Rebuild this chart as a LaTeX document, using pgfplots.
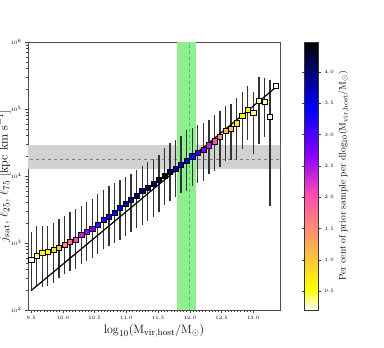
\documentclass[border=0pt]{standalone}
\usepackage{pgfplots}
\pgfplotsset{compat=1.18}
\usepackage{pgfplotstable}

\definecolor{bandgreen}{RGB}{144,238,144}
\definecolor{linegreen}{RGB}{50,205,50}

% x, median, lower, upper, per cent of prior sample
\pgfplotstableread{
x y lo hi c
9.5 562 195 1445 0.2
9.5875 646 229 1820 0.32
9.675 724 224 1778 0.55
9.7625 741 229 1820 0.6
9.85 794 251 1995 0.85
9.9375 851 302 2291 1.1
10.025 944 339 2570 1.5
10.1125 1047 376 2951 1.8
10.2 1122 407 3236 2.05
10.2875 1318 484 3508 2.4
10.375 1462 543 4074 2.6
10.4625 1641 596 4571 2.8
10.55 1884 684 5433 3.0
10.6375 2213 813 6237 3.2
10.725 2455 912 6998 3.3
10.8125 2851 1000 7852 3.4
10.9 3350 1109 8810 3.5
10.9875 3846 1288 9660 3.85
11.075 4365 1445 10840 3.9
11.1625 5012 1679 12160 4.0
11.25 5943 1884 13960 4.1
11.3375 6683 2113 16220 4.15
11.425 7674 2427 18200 4.1
11.5125 8810 2951 20420 4.3
11.6 10120 3715 26300 4.45
11.6875 11480 4266 30900 4.1
11.775 12740 4786 34670 3.8
11.8625 14790 5495 39810 3.6
11.95 17060 6026 47860 3.5
12.0375 19720 7079 52480 3.4
12.125 21980 7943 57540 3.2
12.2125 24830 8511 60950 2.7
12.3 28840 10720 69180 2.4
12.3875 33110 12020 81280 2.05
12.475 38640 13800 93330 1.5
12.5625 46770 16980 109600 1.2
12.65 50120 17580 120200 1.0
12.7375 61230 17580 144500 0.75
12.825 78890 25700 182000 0.6
12.9125 96160 33880 218800 0.55
13.0 87100 21380 182000 0.35
13.0875 131800 30200 302000 0.3
13.175 128800 38020 288400 0.3
13.2625 76740 3548 269200 0.2
13.35 223900 223900 223900 0.2
}\satdata

\begin{document}
\begin{tikzpicture}
\useasboundingbox (-28pt,-38pt) rectangle (356pt,310pt);
\begin{axis}[
  at={(0,0)}, anchor=south west,
  scale only axis, width=252pt, height=268pt,
  xmin=9.45, xmax=13.42,
  ymode=log, ymin=100, ymax=1e6,
  xtick={9.5,10,...,13},
  x tick label style={/pgf/number format/.cd, fixed, fixed zerofill, precision=1},
  minor x tick num=9,
  tick pos=left, tick align=outside,
  major tick length=3pt, minor tick length=1.8pt,
  tick style={black!75, line width=0.5pt},
  axis line style={black!70, line width=0.7pt},
  ticklabel style={font=\fontsize{5.5}{6}\selectfont},
  xlabel={$\log_{10}(\mathrm{M}_{\mathrm{vir,host}}/\mathrm{M}_{\odot})$},
  ylabel={$j_{\mathrm{sat}}$, $\ell_{25}$, $\ell_{75}$ [kpc km s$^{-1}$]},
  label style={font=\fontsize{12.3}{14}\selectfont},
  xlabel style={at={(axis description cs:0.5,-0.078)}, anchor=center},
  ylabel style={at={(axis description cs:-0.095,0.5)}, anchor=center},
  colormap={gnutwor}{rgb(0pt)=(1,1,1); rgb(8pt)=(1,1,0); rgb(43pt)=(1,0.3,0.7); rgb(58pt)=(0.531,0,1); rgb(75pt)=(0,0,1); rgb(100pt)=(0,0,0)},
  point meta min=0.2, point meta max=4.48,
  colorbar,
  colorbar style={
    at={(parent axis.north east)}, anchor=north west, xshift=16pt,
    scale only axis, width=14pt, height=268pt,
    ytick={0.5,1,...,4},
    yticklabel style={/pgf/number format/.cd, fixed, fixed zerofill, precision=1},
    ticklabel style={font=\fontsize{5.5}{6}\selectfont},
    tick align=outside, major tick length=2.5pt,
    tick style={black!75, line width=0.5pt},
    axis line style={black!80, line width=0.7pt},
    ylabel={Per cent of prior sample per dlog$_{10}$(M$_{\mathrm{vir,host}}$/M$_{\odot}$)},
    ylabel style={at={(axis description cs:2.8,0.5)}, anchor=center, font=\fontsize{9.5}{11}\selectfont},
  },
]
  \addplot[fill=black!18, draw=none, forget plot]
    coordinates {(9.3,12600) (13.6,12600) (13.6,29000) (9.3,29000)} -- cycle;
  \addplot[gray, dashed, line width=1pt, forget plot]
    coordinates {(9.3,17700) (13.6,17700)};
  \addplot[fill=bandgreen, draw=none, forget plot]
    coordinates {(11.8,50) (12.1,50) (12.1,2e6) (11.8,2e6)} -- cycle;
  \addplot[linegreen, dashed, line width=1pt, forget plot]
    coordinates {(12,50) (12,2e6)};
  \addplot[draw=none, mark=none, forget plot,
    error bars/.cd, y dir=both, y explicit, error mark=none,
    error bar style={draw=black!80, line width=1.3pt, solid}]
    table[x=x, y=y, y error plus expr=\thisrow{hi}-\thisrow{y},
          y error minus expr=\thisrow{y}-\thisrow{lo}] {\satdata};
  \addplot[black, line width=1.2pt, forget plot]
    coordinates {(9.5,195) (13.35,209000)};
  \addplot[scatter, only marks, mark=square*, mark size=2.6pt,
    point meta=explicit,
    scatter/use mapped color={draw=black, fill=mapped color},
    mark options={line width=0.5pt}]
    table[x=x, y=y, meta=c] {\satdata};
\end{axis}
\end{tikzpicture}
\end{document}
